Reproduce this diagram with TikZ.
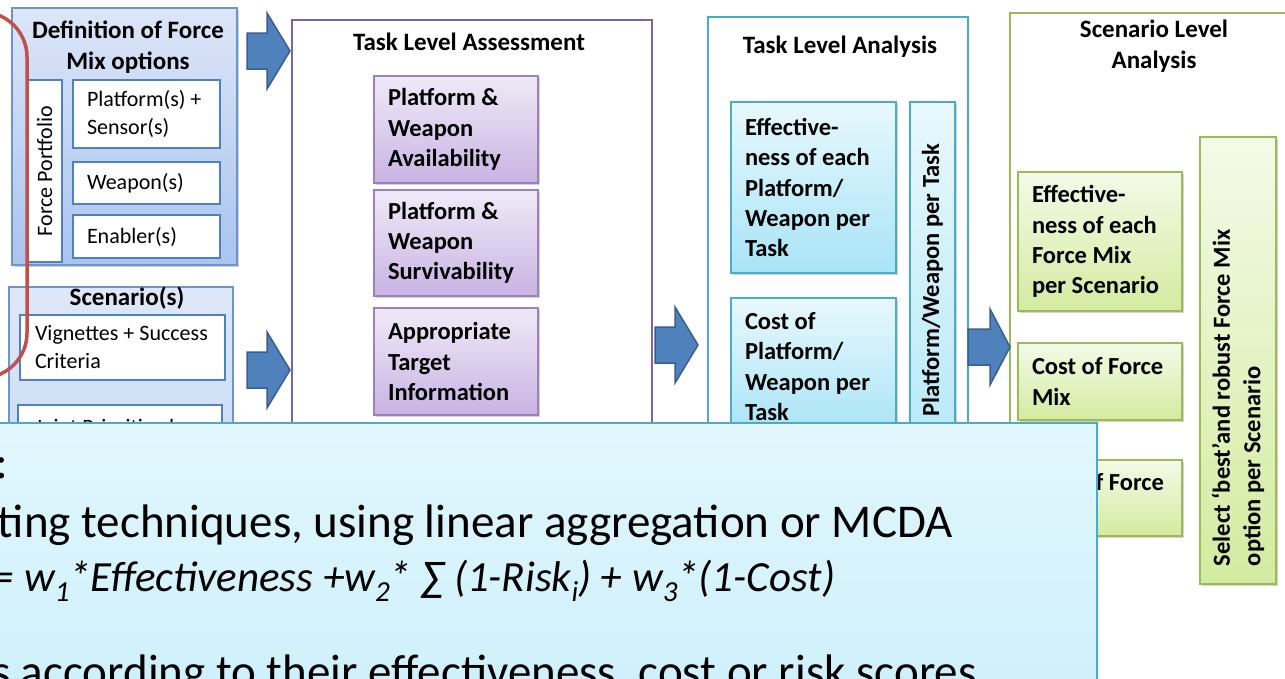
\documentclass[tikz,border=0pt]{standalone}
\usepackage{fontspec}
\setmainfont{Carlito}
\usetikzlibrary{shadows}

\definecolor{redline}{HTML}{C0504D}
\definecolor{defedge}{HTML}{6F94C8}
\definecolor{deftop}{HTML}{DCE6F8}
\definecolor{defbot}{HTML}{A9C4EF}
\definecolor{scntop}{HTML}{DEE8F8}
\definecolor{scnbot}{HTML}{BDD2F3}
\definecolor{blueedge}{HTML}{4F81BD}
\definecolor{arrowfill}{HTML}{4F81BD}
\definecolor{arrowedge}{HTML}{3A5F8B}
\definecolor{purpedge}{HTML}{8064A2}
\definecolor{purpinner}{HTML}{9B82BE}
\definecolor{purptop}{HTML}{EFEAF7}
\definecolor{purpbot}{HTML}{C9B3E3}
\definecolor{cyanedge}{HTML}{4BACC6}
\definecolor{cyantop}{HTML}{E8F8FD}
\definecolor{cyanbot}{HTML}{A8E4F6}
\definecolor{greenedge}{HTML}{9BBB59}
\definecolor{greentop}{HTML}{F4FAE8}
\definecolor{greenbot}{HTML}{D3EB9F}
\definecolor{notetop}{HTML}{E2F7FD}
\definecolor{notebot}{HTML}{CCEFFB}

% lowered index used in the weighting formula
\newcommand\lowered[1]{\raisebox{-0.24em}{\fontsize{29}{29}\selectfont #1}}

% block arrow: name, tail x, head-base x, tip x, middle y
\newcommand\blockarrow[5]{%
  \draw[blockarr] (#2,#5-18) coordinate (#1) -- (#3,#5-18) -- (#3,#5-38)
    -- (#4,#5) -- (#3,#5+38) -- (#3,#5+18) -- (#2,#5+18) -- cycle;}

\begin{document}
\begin{tikzpicture}[x=1pt,y=-1pt,
  every node/.style={inner sep=0pt, outer sep=0pt},
  panel/.style 2 args={anchor=north west, minimum width=#1pt, minimum height=#2pt},
  hbold/.style={font=\fontsize{25}{31}\selectfont\bfseries, align=center},
  ibold/.style={font=\fontsize{24.5}{30.3}\selectfont\bfseries, align=left, anchor=west},
  plain/.style={font=\fontsize{22}{28}\selectfont, align=left, anchor=west},
  notefont/.style={font=\fontsize{47}{57}\selectfont, anchor=base west},
  shade/.style={drop shadow={shadow xshift=1.5pt, shadow yshift=-2pt, opacity=.35, fill=black!50}},
  defouter/.style={draw=defedge, line width=1.5pt, top color=deftop, bottom color=defbot},
  scnouter/.style={draw=defedge, line width=1.5pt, top color=scntop, bottom color=scnbot},
  whitecell/.style={draw=blueedge, line width=2.5pt, fill=white},
  purpcell/.style={draw=purpinner, line width=1.5pt, top color=purptop, bottom color=purpbot, shade},
  cyancell/.style={draw=cyanedge, line width=1.5pt, top color=cyantop, bottom color=cyanbot, shade},
  greencell/.style={draw=greenedge, line width=1.5pt, top color=greentop, bottom color=greenbot, shade},
  blockarr/.style={draw=arrowedge, line width=1.5pt, fill=arrowfill, line join=miter},
  notebox/.style={draw=cyanedge, line width=2pt, top color=notetop, bottom color=notebot},
]
\clip (0,0) rectangle (1285,678);
\fill[white] (0,0) rectangle (1285,678);

% ---------- inputs: force mix options ----------
\node[defouter, shade, panel={225}{257}] (defbox) at (12,8) {};
\node[hbold] (deftitle) at (128,47) {Definition of Force\\Mix options};
\node[whitecell, line width=1.5pt, panel={35}{182}] (portbox) at (27,80) {};
\node[plain, anchor=center, rotate=90] (porttext) at (portbox.center) {Force Portfolio};
\node[whitecell, panel={147}{68}] (platsens) at (73,80) {};
\node[plain] (platsenst) at ([xshift=14pt]platsens.west) {Platform(s) +\\Sensor(s)};
\node[whitecell, panel={147}{42}] (weapons) at (73,162) {};
\node[plain] (weaponst) at ([xshift=14pt]weapons.west) {Weapon(s)};
\node[whitecell, panel={147}{43}] (enablers) at (73,215) {};
\node[plain] (enablerst) at ([xshift=14pt]enablers.west) {Enabler(s)};

% ---------- inputs: scenarios ----------
\node[scnouter, panel={224}{300}] (scnbox) at (9,287) {};
\node[hbold] (scntitle) at (127,298) {Scenario(s)};
\node[whitecell, panel={205}{65}] (vignettes) at (20,315) {};
\node[plain] (vignettest) at ([xshift=15pt]vignettes.west) {Vignettes + Success\\Criteria};
\node[whitecell, panel={204}{80}] (jointbox) at (18,405) {};
\node[plain, anchor=base west] (jointtext) at (35,434) {Joint Prioritised};

% grouping of the inputs
\draw[redline, line width=3.5pt, rounded corners=45pt] (-80,12) rectangle (27,378);

% ---------- task level assessment ----------
\node[draw=purpedge, line width=2.5pt, fill=white, panel={360}{700}] (tlassess) at (292,20) {};
\node[hbold] (tlatitle) at (469,42) {Task Level Assessment};
\node[purpcell, panel={164}{107}] (avail) at (374,76) {};
\node[ibold] (availt) at ([xshift=14pt]avail.west) {Platform \&\\Weapon\\Availability};
\node[purpcell, panel={164}{106}] (surv) at (374,190) {};
\node[ibold] (survt) at ([xshift=14pt]surv.west) {Platform \&\\Weapon\\Survivability};
\node[purpcell, panel={164}{107}] (target) at (374,308) {};
\node[ibold] (targett) at ([xshift=14pt]target.west) {Appropriate\\Target\\Information};

% ---------- task level analysis ----------
\node[draw=cyanedge, line width=2.5pt, fill=white, panel={260}{700}] (tlanalysis) at (708,17) {};
\node[hbold] (tlntitle) at (840,47) {Task Level Analysis};
\node[cyancell, panel={165}{171}] (effpw) at (731,102) {};
\node[ibold] (effpwt) at ([xshift=14pt]effpw.west) {Effective-\\ness of each\\Platform/\\Weapon per\\Task};
\node[cyancell, panel={165}{137}] (costpw) at (731,298) {};
\node[ibold] (costpwt) at ([xshift=14pt]costpw.west) {Cost of\\Platform/\\Weapon per\\Task};
\node[cyancell, panel={45}{460}] (pwbar) at (910,102) {};
\node[ibold, rotate=90, anchor=east] (pwtext) at (932.5,144) {Platform/Weapon per Task};

% ---------- scenario level analysis ----------
\node[draw=greenedge, line width=2.5pt, fill=white, panel={300}{700}] (slanalysis) at (1010,13) {};
\node[hbold] (slatitle) at (1154,46) {Scenario Level\\Analysis};
\node[greencell, panel={164}{139}] (efffm) at (1018,172) {};
\node[ibold] (efffmt) at ([xshift=14pt]efffm.west) {Effective-\\ness of each\\Force Mix\\per Scenario};
\node[greencell, panel={164}{77}] (costfm) at (1018,343) {};
\node[ibold] (costfmt) at ([xshift=14pt]costfm.west) {Cost of Force\\Mix};
\node[greencell, panel={164}{76}] (thirdfm) at (1018,460) {};
\node[ibold, anchor=base east] (thirdtext) at (1164,490) {f Force};
\node[greencell, panel={76}{447}] (selectbar) at (1200,137) {};
\node[ibold, rotate=90, anchor=west] (selecttext) at (1238,566)
  {Select ‘best’and robust Force Mix\\option per Scenario};

% ---------- flow arrows ----------
\blockarrow{arrA}{247}{267}{290}{51}
\blockarrow{arrB}{247}{267}{290}{370}
\blockarrow{arrC}{655}{675}{698}{345}
\blockarrow{arrD}{968}{990}{1010}{347}

% ---------- note on aggregation ----------
\node[notebox, panel={1117}{300}] (notepanel) at (-20,423) {};
\node[notefont] (noteA) at (-5,478) {:};
\node[notefont] (noteB) at (-2,537) {ting techniques, using linear aggregation or MCDA};
\node[notefont, font=\fontsize{43}{50}\selectfont\itshape] (noteC) at (-7,591)
  {= w\lowered{1}*Effectiveness +w\lowered{2}* ∑ (1-Risk\lowered{i}) + w\lowered{3}*(1-Cost)};
\node[notefont] (noteD) at (-8,687) {s according to their effectiveness, cost or risk scores};
\end{tikzpicture}
\end{document}
